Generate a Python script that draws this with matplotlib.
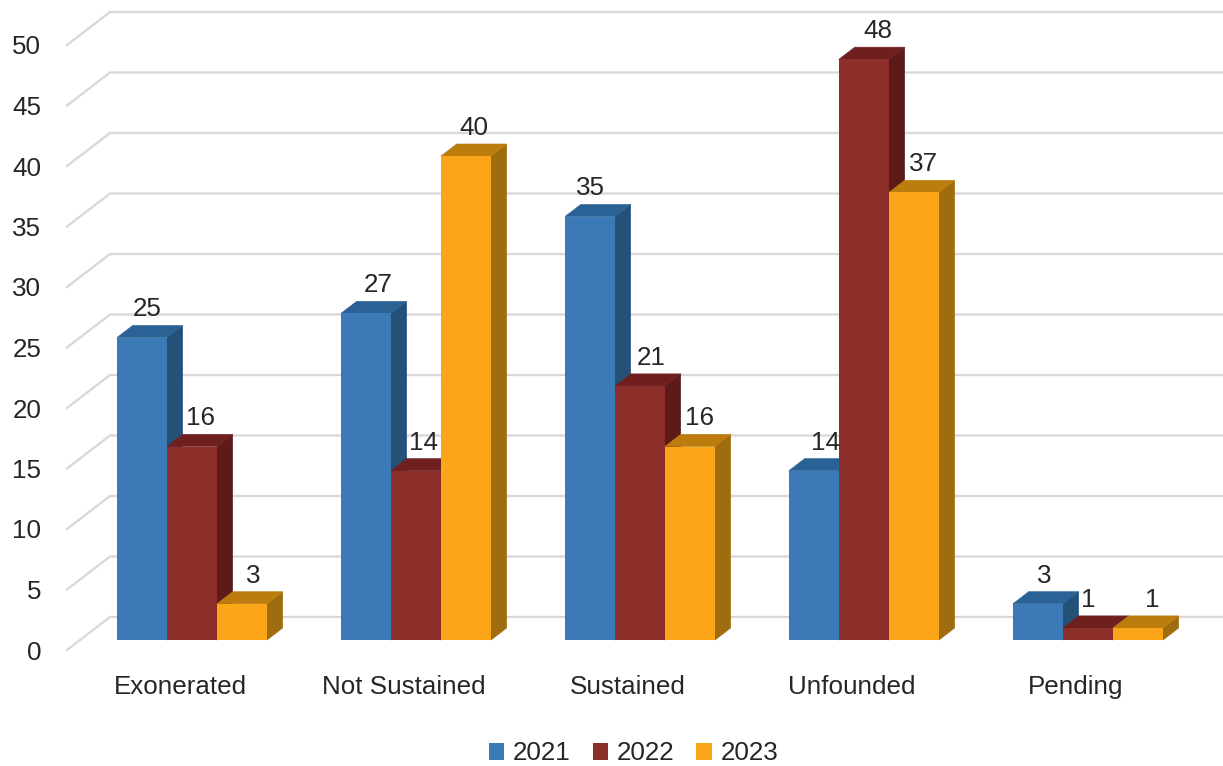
#!/usr/bin/env python3
"""Complaint outcomes by year, drawn as extruded bars on a tilted floor."""

from __future__ import annotations

import matplotlib

matplotlib.use("Agg")
import matplotlib.pyplot as plt
from matplotlib.patches import Patch, Polygon

categories = ["Exonerated", "Not Sustained", "Sustained", "Unfounded", "Pending"]
years = ["2021", "2022", "2023"]
values_2021 = [25, 27, 35, 14, 3]
values_2022 = [16, 14, 21, 48, 1]
values_2023 = [3, 40, 16, 37, 1]
y_ticks = [0, 5, 10, 15, 20, 25, 30, 35, 40, 45, 50]

# front, top and side shade for each series
SHADES = [
    ("#3c7ab7", "#2a6295", "#245178"),
    ("#8c2f2b", "#6f201e", "#5c1b19"),
    ("#fba518", "#bc7d0e", "#9f6c0e"),
]
GRID_COLOR = "#d9d9d9"
TEXT_COLOR = "#262626"
FONT_SIZE = 18.7

WIDTH_PX, HEIGHT_PX = 1223, 766
LEFT_PX, RIGHT_PX = 67, 1223
ZERO_PX, TOP_PX = 650, 45
CATEGORY_PX = 224
FIRST_CATEGORY_PX = 179
BAR_PX = 50
# floor depth of the plot, and where the bars sit along it
GRID_DX_PX, GRID_DY_PX = 43, 33
BAR_FRONT, BAR_BACK = 0.30, 0.667
LABEL_GAP_PX = 16
# hand placement of the value labels, per year and category
LABEL_NUDGE_PX = [
    [-3, 4, -7, 4, -2],
    [1, 0, 3, 6, -8],
    [3, 0, 2, 2, 6],
]


plt.rcParams["font.family"] = ["Liberation Sans", "DejaVu Sans"]

fig = plt.figure(figsize=(WIDTH_PX / 100, HEIGHT_PX / 100), dpi=100)
ax = fig.add_axes(
    [
        LEFT_PX / WIDTH_PX,
        1 - ZERO_PX / HEIGHT_PX,
        (RIGHT_PX - LEFT_PX) / WIDTH_PX,
        (ZERO_PX - TOP_PX) / HEIGHT_PX,
    ]
)
ax.set_xlim(
    (LEFT_PX - FIRST_CATEGORY_PX) / CATEGORY_PX,
    (RIGHT_PX - FIRST_CATEGORY_PX) / CATEGORY_PX,
)
ax.set_ylim(0, 50)
for spine in ax.spines.values():
    spine.set_visible(False)

x_per_px = 1 / CATEGORY_PX
y_per_px = 50 / (ZERO_PX - TOP_PX)
depth_dx = GRID_DX_PX * x_per_px
depth_dy = GRID_DY_PX * y_per_px
bar_width = BAR_PX * x_per_px
x_start = ax.get_xlim()[0]
x_end = ax.get_xlim()[1]

for tick in y_ticks:
    ax.plot(
        [x_start, x_start + depth_dx, x_end],
        [tick, tick + depth_dy, tick + depth_dy],
        color=GRID_COLOR,
        linewidth=1.7,
        clip_on=False,
        solid_joinstyle="miter",
        zorder=1,
    )

series = [values_2021, values_2022, values_2023]
front_dx = depth_dx * BAR_FRONT
front_dy = depth_dy * BAR_FRONT
back_dx = depth_dx * (BAR_BACK - BAR_FRONT)
back_dy = depth_dy * (BAR_BACK - BAR_FRONT)

zorder = 2
for cat_index in range(len(categories)):
    for year_index, values in enumerate(series):
        value = values[cat_index]
        front, top, side = SHADES[year_index]
        left = cat_index + (year_index - 1.5) * bar_width + front_dx
        right = left + bar_width
        base = front_dy
        height = base + value
        ax.add_patch(
            Polygon(
                [
                    (right, base),
                    (right + back_dx, base + back_dy),
                    (right + back_dx, height + back_dy),
                    (right, height),
                ],
                facecolor=side,
                edgecolor=side,
                linewidth=0.4,
                clip_on=False,
                zorder=zorder,
            )
        )
        ax.add_patch(
            Polygon(
                [
                    (left, height),
                    (left + back_dx, height + back_dy),
                    (right + back_dx, height + back_dy),
                    (right, height),
                ],
                facecolor=top,
                edgecolor=top,
                linewidth=0.4,
                clip_on=False,
                zorder=zorder,
            )
        )
        ax.bar(
            left,
            value,
            width=bar_width,
            bottom=base,
            align="edge",
            color=front,
            edgecolor="none",
            clip_on=False,
            zorder=zorder,
        )
        zorder += 1

for cat_index in range(len(categories)):
    for year_index, values in enumerate(series):
        value = values[cat_index]
        center = cat_index + (year_index - 1) * bar_width + front_dx + back_dx / 2
        ax.text(
            center + LABEL_NUDGE_PX[year_index][cat_index] * x_per_px,
            value + front_dy + back_dy + LABEL_GAP_PX * y_per_px,
            str(value),
            ha="center",
            va="center",
            fontsize=FONT_SIZE,
            color=TEXT_COLOR,
            clip_on=False,
            zorder=100,
        )

ax.set_yticks(y_ticks)
ax.set_xticks([i + x_per_px for i in range(len(categories))], categories)
ax.tick_params(axis="y", length=0, pad=18.5, labelsize=FONT_SIZE, labelcolor=TEXT_COLOR)
ax.tick_params(axis="x", length=0, pad=18, labelsize=FONT_SIZE, labelcolor=TEXT_COLOR)

handles = [Patch(facecolor=shade[0], label=year) for shade, year in zip(SHADES, years)]
fig.legend(
    handles=handles,
    loc="center",
    bbox_to_anchor=(633.5 / WIDTH_PX, 1 - 753.5 / HEIGHT_PX),
    ncol=3,
    frameon=False,
    fontsize=FONT_SIZE,
    labelcolor=TEXT_COLOR,
    handlelength=0.6,
    handleheight=0.6,
    handletextpad=0.33,
    columnspacing=0.85,
    borderpad=0,
)

fig.savefig("out.png", dpi=100)
